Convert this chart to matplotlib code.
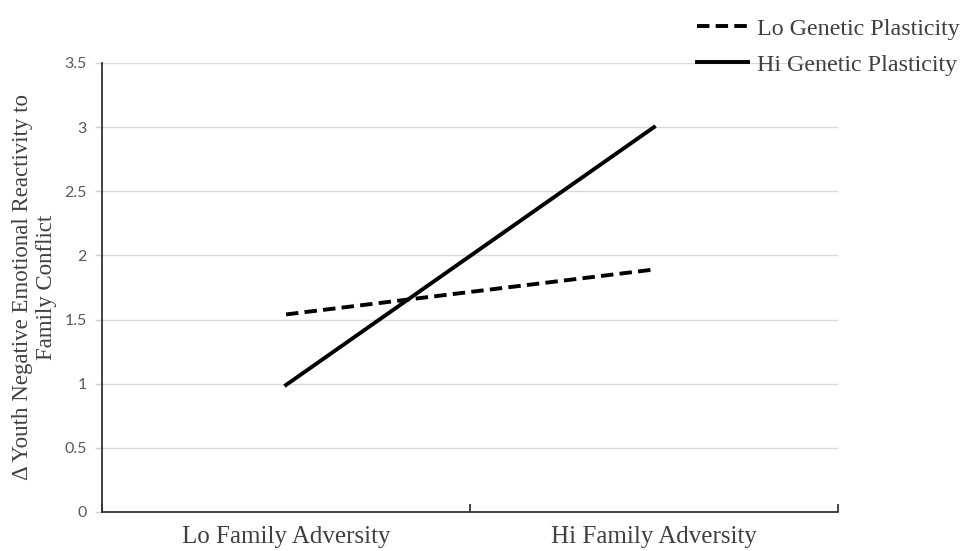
import numpy as np
import matplotlib.pyplot as plt

# данные
categories = ["Lo Family Adversity", "Hi Family Adversity"]
lo_plasticity = [1.54, 1.89]
hi_plasticity = [0.99, 3.0]
yticks = [0, 0.5, 1, 1.5, 2, 2.5, 3, 3.5]
ytick_labels = ["0", "0.5", "1", "1.5", "2", "2.5", "3", "3.5"]

serif = ["Liberation Serif", "DejaVu Serif"]

fig = plt.figure(figsize=(9.65, 5.51), dpi=100)
ax = fig.add_axes([0.1057, 0.0708, 0.7627, 0.8149])

x = np.arange(len(categories))
ax.plot(x, lo_plasticity, color="black", lw=2.8, ls=(0, (3.2, 1.6)), label="Lo Genetic Plasticity")
ax.plot(x, hi_plasticity, color="black", lw=2.8, label="Hi Genetic Plasticity")

ax.set_xlim(-0.5, 1.5)
ax.set_ylim(0, 3.5)
ax.set_yticks(yticks)
ax.set_yticklabels(ytick_labels, fontfamily="Lato", fontsize=11.5, color="#595959")
ax.tick_params(axis="y", length=5, color="#d0d0d0", width=1, pad=6)
ax.grid(axis="y", color="#d9d9d9", lw=1)
ax.set_axisbelow(True)

ax.set_xticks(x)
ax.set_xticklabels(categories, fontfamily=serif, fontsize=18, color="#404040")
ax.tick_params(axis="x", which="major", length=0, pad=10)
ax.set_xticks([-0.5, 0.5, 1.5], minor=True)
ax.tick_params(axis="x", which="minor", direction="in", length=6, color="#222222", width=1.2)

for s in ["top", "right"]:
    ax.spines[s].set_visible(False)
for s in ["left", "bottom"]:
    ax.spines[s].set_color("#333333")
    ax.spines[s].set_linewidth(1.3)

ax.set_ylabel("Δ Youth Negative Emotional Reactivity to\nFamily Conflict",
              fontfamily=serif, fontsize=16.5, color="#404040")
ax.yaxis.set_label_coords(-0.061, 0.5)

leg = fig.legend(loc="center left", bbox_to_anchor=(0.7125, 0.915), frameon=False,
                 prop={"family": serif, "size": 17.3}, handlelength=2.1,
                 handletextpad=0.4, labelspacing=0.6, borderaxespad=0)
for t in leg.get_texts():
    t.set_color("#404040")

fig.savefig("out.png", dpi=100)
